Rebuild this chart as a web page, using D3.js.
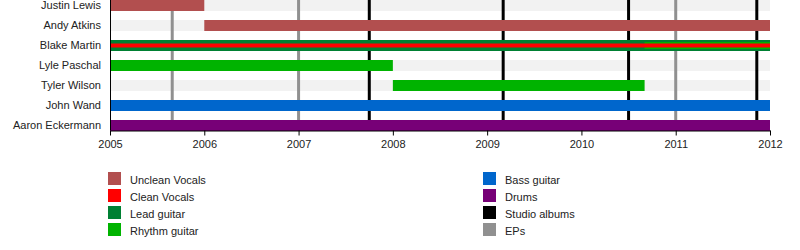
<!DOCTYPE html>
<html>
<head>
<meta charset="utf-8">
<script src="https://cdn.jsdelivr.net/npm/d3@7"></script>
<style>
  body { margin: 0; background: #fff; }
  svg { display: block; font-family: "Liberation Sans", Arial, sans-serif; }
</style>
</head>
<body>
<div id="chart"></div>
<script>
var members = ["Justin Lewis", "Andy Atkins", "Blake Martin", "Lyle Paschal",
               "Tyler Wilson", "John Wand", "Aaron Eckermann"];

var roles = ["Unclean Vocals", "Clean Vocals", "Lead guitar", "Rhythm guitar",
             "Bass guitar", "Drums", "Studio albums", "EPs"];

var years = [2005, 2006, 2007, 2008, 2009, 2010, 2011, 2012];

// member, role, from, to (listed bottom layer first)
var spans = [
    ["Justin Lewis", "Unclean Vocals", 2005, 2006],
    ["Andy Atkins", "Unclean Vocals", 2006, 2012],
    ["Blake Martin", "Lead guitar", 2005, 2012],
    ["Blake Martin", "Rhythm guitar", 2010.67, 2012],
    ["Blake Martin", "Clean Vocals", 2005, 2012],
    ["Lyle Paschal", "Rhythm guitar", 2005, 2008],
    ["Tyler Wilson", "Rhythm guitar", 2008, 2010.67],
    ["John Wand", "Bass guitar", 2005, 2012],
    ["Aaron Eckermann", "Drums", 2005, 2012]
];

var studioAlbums = [2007.75, 2009.17, 2010.5, 2011.86];
var eps = [2005.66, 2007.0, 2011.0];

var width = 800, height = 250;
var color = d3.scaleOrdinal()
    .domain(roles)
    .range(["#b24f4f", "#ff0000", "#008033", "#00b300",
            "#0066cc", "#770077", "#000000", "#909090"]);

var x = d3.scaleLinear().domain([2005, 2012]).range([110, 770]);
var y = d3.scaleBand().domain(members).range([0, 131]).paddingInner(0.45).align(0);
var axisY = 130;

var svg = d3.select("#chart").append("svg")
    .attr("width", width)
    .attr("height", height);

// row backgrounds
svg.append("g").selectAll("rect")
    .data(members)
    .join("rect")
    .attr("x", x(2005))
    .attr("y", d => y(d))
    .attr("width", x(2012) - x(2005))
    .attr("height", y.bandwidth())
    .attr("fill", "#f2f2f2");

// release lines (behind bars)
var releases = studioAlbums.map(d => ({ t: d, type: "Studio albums" }))
    .concat(eps.map(d => ({ t: d, type: "EPs" })));
svg.append("g").selectAll("line")
    .data(releases)
    .join("line")
    .attr("x1", d => x(d.t))
    .attr("x2", d => x(d.t))
    .attr("y1", 0)
    .attr("y2", axisY)
    .attr("stroke", d => color(d.type))
    .attr("stroke-width", 3);

// bars: each extra role of a member is drawn thinner on top
var layerH = [11, 7, 4];
var seen = {};
var bars = spans.map(function (s) {
    var key = s[0];
    seen[key] = seen[key] || [];
    if (seen[key].indexOf(s[1]) < 0) seen[key].push(s[1]);
    return { member: s[0], role: s[1], from: s[2], to: s[3], layer: seen[key].indexOf(s[1]) };
});
svg.append("g").selectAll("rect")
    .data(bars)
    .join("rect")
    .attr("x", d => x(d.from))
    .attr("width", d => x(d.to) - x(d.from))
    .attr("y", d => y(d.member) + (y.bandwidth() - layerH[d.layer]) / 2)
    .attr("height", d => layerH[d.layer])
    .attr("fill", d => color(d.role));

// member labels
svg.append("g").selectAll("text")
    .data(members)
    .join("text")
    .attr("x", 101)
    .attr("y", d => y(d) + y.bandwidth() / 2)
    .attr("dy", "0.35em")
    .attr("text-anchor", "end")
    .attr("font-size", 11)
    .attr("fill", "#222")
    .text(d => d);

// left axis line
svg.append("line")
    .attr("x1", 110.5).attr("x2", 110.5)
    .attr("y1", 0).attr("y2", axisY)
    .attr("stroke", "#000");

// time axis
var axis = svg.append("g")
    .attr("transform", "translate(0," + (axisY + 0.5) + ")")
    .call(d3.axisBottom(x).tickValues(years).tickFormat(d3.format("d")).tickSize(5).tickSizeOuter(0));
axis.select(".domain").attr("stroke", "#000");
axis.selectAll("text").attr("font-size", 11).attr("fill", "#222")
    .attr("font-family", "Liberation Sans, Arial, sans-serif").attr("dy", "0.9em");

// legend
var legend = svg.append("g").selectAll("g")
    .data(roles)
    .join("g")
    .attr("transform", (d, i) => "translate(" + (i < 4 ? 108 : 483) + "," + (172 + 17 * (i % 4)) + ")");
legend.append("rect")
    .attr("width", 13).attr("height", 13)
    .attr("fill", d => color(d));
legend.append("text")
    .attr("x", 22).attr("y", 8).attr("dy", "0.35em")
    .attr("font-size", 11)
    .attr("fill", "#222")
    .text(d => d);
</script>
</body>
</html>
